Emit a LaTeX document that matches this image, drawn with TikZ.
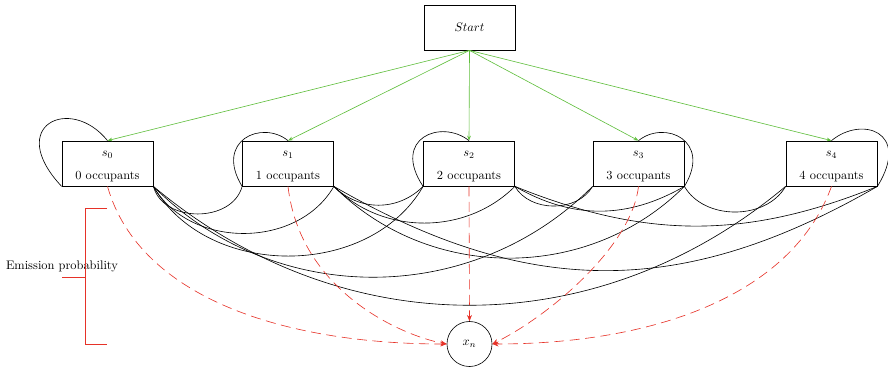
\documentclass[tikz,border=0pt]{standalone}
\usetikzlibrary{arrows.meta}
\definecolor{mygreen}{RGB}{95,190,60}
\definecolor{myred}{RGB}{230,50,40}
\begin{document}
\begin{tikzpicture}[x=0.8063pt, y=-0.8063pt,
  statebox/.style={draw, line width=0.6pt, minimum width=73.4pt, minimum height=36.3pt, inner sep=0pt, align=center},
  trans/.style={black, line width=0.5pt},
  startarrow/.style={mygreen, line width=0.5pt, -{Stealth[length=4pt,width=3pt]}},
  emit/.style={myred, line width=0.5pt, dash pattern=on 8pt off 4.5pt, -{Stealth[length=5pt,width=4pt]}},
  brace/.style={myred, line width=0.5pt},
]
\useasboundingbox (0,0) rectangle (888,368);

% nodes
\node[statebox] (start) at (469.5,27.5) {$Start$};
\node[statebox] (s0) at (107.5,163.5) {$s_0$\rule{0pt}{9pt}\\[6pt]0 occupants};
\node[statebox] (s1) at (288,163.5) {$s_1$\rule{0pt}{9pt}\\[6pt]1 occupants};
\node[statebox] (s2) at (469,163.5) {$s_2$\rule{0pt}{9pt}\\[6pt]2 occupants};
\node[statebox] (s3) at (638.5,163.5) {$s_3$\rule{0pt}{9pt}\\[6pt]3 occupants};
\node[statebox] (s4) at (831.5,163.5) {$s_4$\rule{0pt}{9pt}\\[6pt]4 occupants};
\node[draw, circle, line width=0.5pt, minimum size=36.3pt, inner sep=0pt] (xn) at (469.5,344) {$x_n$};

% start arrows
\foreach \s in {s0,s1,s2,s3,s4}
  \draw[startarrow] (start.south) -- (\s.north);

% self loops
\draw[trans] (s0.south west) .. controls +(-57,-61) and +(-37,-46) .. (s0.north);
\draw[trans] (s1.south west) .. controls +(-28,-46) and +(-26,-21) .. (s1.north);
\draw[trans] (s2.south west) .. controls +(-32,-48) and +(-28,-22) .. (s2.north);
\draw[trans] (s3.south east) .. controls +(28,-46) and +(26,-21) .. (s3.north);
\draw[trans] (s4.south east) .. controls +(34,-55) and +(30,-25) .. (s4.north);

% transitions
\draw[trans] (s0.south east) to[bend right=75, looseness=1.1] (s1.south west);
\draw[trans] (s0.south east) to[bend right=60, looseness=1.03] (s1.south east);
\draw[trans] (s0.south east) to[bend right=60, looseness=1.02] (s2.south west);
\draw[trans] (s0.south east) to[bend right=45, looseness=1.0] (s3.south west);
\draw[trans] (s0.south east) to[bend right=40, looseness=1.0] (s4.south west);
\draw[trans] (s1.south east) to[bend right=45, looseness=1.02] (s2.south west);
\draw[trans] (s1.south east) to[bend right=45, looseness=0.98] (s2.south east);
\draw[trans] (s1.south east) to[bend right=45, looseness=0.99] (s3.south east);
\draw[trans] (s1.south east) to[bend right=30, looseness=1.06] (s4.south east);
\draw[trans] (s2.south east) to[bend right=60, looseness=1.0] (s3.south west);
\draw[trans] (s2.south east) to[bend right=30, looseness=1.0] (s3.south east);
\draw[trans] (s2.south east) to[bend right=22, looseness=1.0] (s4.south east);
\draw[trans] (s3.south east) to[bend right=60, looseness=1.0] (s4.south west);

% emissions
\draw[emit] (s0.south) .. controls +(32.5,114) and +(-157,0) .. (xn.west);
\draw[emit] (s1.south) .. controls +(12,104) and +(-47,-9) .. (xn.west);
\draw[emit] (s2.south) -- (xn.north);
\draw[emit] (s3.south) .. controls +(-6.5,59) and +(58.5,-29) .. (xn.east);
\draw[emit] (s4.south) .. controls +(-40,110) and +(160,0) .. (xn.east);

% emission probability bracket
\node[inner sep=0pt] (emlabel) at (62,266) {Emission probability};
\coordinate (bt) at (107,208);
\coordinate (btc) at (85,208);
\coordinate (bbc) at (85,344);
\coordinate (bb) at (107,344);
\coordinate (bmid) at (85,277);
\coordinate (btick) at (62,277);
\draw[brace] (bt) -- (btc) -- (bbc) -- (bb);
\draw[brace] (btick) -- (bmid);
\end{tikzpicture}
\end{document}
